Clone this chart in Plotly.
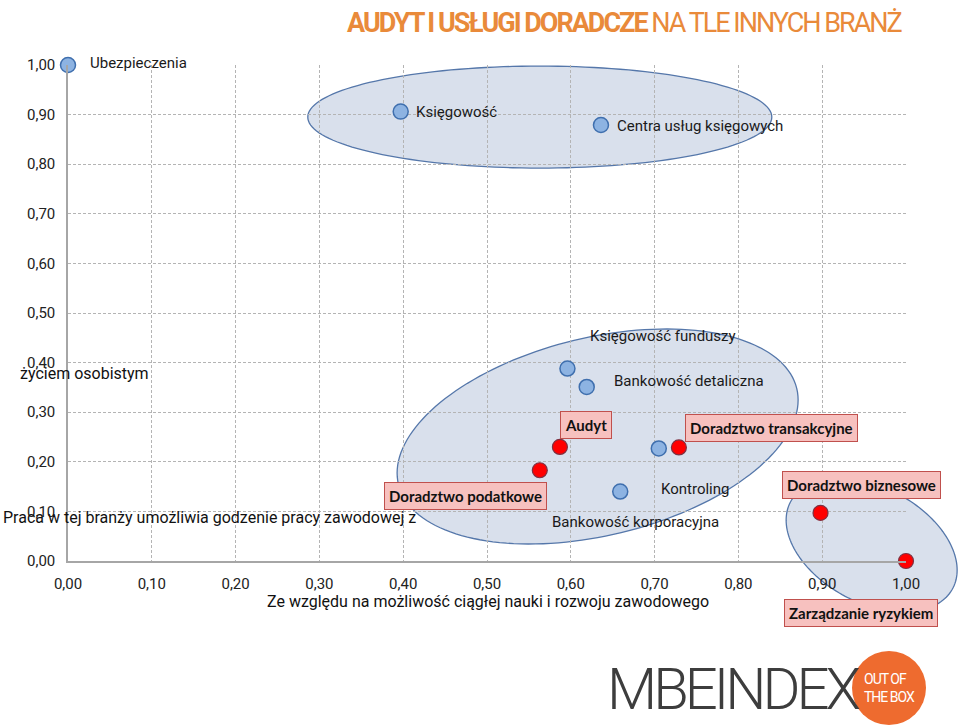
import numpy as np
import plotly.graph_objects as go

# ---------------- data ----------------
blue_names = ["Ubezpieczenia", "Księgowość", "Centra usług księgowych",
              "Księgowość funduszy", "Bankowość detaliczna",
              "Bankowość korporacyjna", "Kontroling"]
blue_x = [0.000, 0.397, 0.636, 0.596, 0.619, 0.705, 0.659]
blue_y = [1.000, 0.906, 0.879, 0.388, 0.351, 0.227, 0.140]

red_names = ["Doradztwo podatkowe", "Audyt", "Doradztwo transakcyjne",
             "Doradztwo biznesowe", "Zarządzanie ryzykiem"]
red_x = [0.563, 0.587, 0.729, 0.898, 1.000]
red_y = [0.183, 0.230, 0.229, 0.097, 0.000]

tick_vals = [round(i * 0.1, 1) for i in range(11)]

title_bold = "AUDYT I USŁUGI DORADCZE"
title_rest = "NA TLE INNYCH BRANŻ"
x_title = "Ze względu na możliwość ciągłej nauki i rozwoju zawodowego"
y_title_a = "życiem osobistym"
y_title_b = "Praca w tej branży umożliwia godzenie pracy zawodowej z"

# label offsets in pixels (text centre relative to point)
blue_off = [(70, -2), (56, 0), (99, 1), (96, -33), (102, -6), (-23, 74), (75, -3)]
red_off = [(-74, 26), (26, -22), (93, -19), (41, -28), (-45, 52)]

# ---------------- layout geometry ----------------
W, H = 960, 725
ML, MR, MT, MB = 68, 54, 65, 164
PW, PH = W - ML - MR, H - MT - MB

FONT = "Roboto, 'Noto Sans', sans-serif"
BOXFONT = "Lato, 'Open Sans', sans-serif"

fig = go.Figure()

fig.add_trace(go.Scatter(
    x=blue_x, y=blue_y, mode="markers", cliponaxis=False,
    marker=dict(size=15, color="#8db3e2", line=dict(color="#3f6fae", width=1.5)),
    hoverinfo="text", text=blue_names, showlegend=False))
fig.add_trace(go.Scatter(
    x=red_x, y=red_y, mode="markers", cliponaxis=False,
    marker=dict(size=15, color="#ff0000", line=dict(color="#7f3040", width=1.2)),
    hoverinfo="text", text=red_names, showlegend=False))

annotations = []
for n, x, y, (ax, ay) in zip(blue_names, blue_x, blue_y, blue_off):
    annotations.append(dict(x=x, y=y, xref="x", yref="y", text=n, showarrow=True,
                            arrowcolor="rgba(0,0,0,0)", ax=ax, ay=ay,
                            font=dict(family=FONT, size=15, color="#1a1a1a")))
for n, x, y, (ax, ay) in zip(red_names, red_x, red_y, red_off):
    annotations.append(dict(x=x, y=y, xref="x", yref="y", text="<b>" + n + "</b>", showarrow=True,
                            arrowcolor="rgba(0,0,0,0)", ax=ax, ay=ay,
                            bgcolor="#f7c1bf", borderpad=4, borderwidth=1,
                            bordercolor="#c0504d",
                            font=dict(family=BOXFONT, size=15, color="#111111")))

def px2paper(px, py):
    return (px - ML) / PW, (H - MB - py) / PH

# axis titles as free text (as in the original)
xa, ya = px2paper(18, 373)
annotations.append(dict(x=xa, y=ya, xref="paper", yref="paper", text=y_title_a, showarrow=False,
                        xanchor="left", yanchor="middle", font=dict(family=FONT, size=16, color="#111")))
xa, ya = px2paper(1, 517)
annotations.append(dict(x=xa, y=ya, xref="paper", yref="paper", text=y_title_b, showarrow=False,
                        xanchor="left", yanchor="middle", font=dict(family=FONT, size=16, color="#111")))
xa, ya = px2paper(488, 601)
annotations.append(dict(x=xa, y=ya, xref="paper", yref="paper", text=x_title, showarrow=False,
                        xanchor="center", yanchor="middle", font=dict(family=FONT, size=16, color="#111")))

# page title
xa, ya = px2paper(625, 23)
annotations.append(dict(
    x=xa, y=ya, xref="paper", yref="paper",
    text=("<span style='letter-spacing:-2px'><b>" + title_bold + "</b> " + title_rest + "</span>"),
    showarrow=False, xanchor="center", yanchor="middle",
    font=dict(family="Roboto", size=27, color="#e98a3a")))

# logo
xa, ya = px2paper(733, 689)
annotations.append(dict(x=xa, y=ya, xref="paper", yref="paper",
                        text="<span style='letter-spacing:-4px'>MBEINDEX</span>", showarrow=False,
                        xanchor="center", yanchor="middle",
                        font=dict(family="Roboto", size=58, weight=300, color="#3d3d3d")))
xa, ya = px2paper(889, 688)
annotations.append(dict(x=xa, y=ya, xref="paper", yref="paper",
                        text="<span style='letter-spacing:-1px'>OUT OF<br>THE BOX</span>", showarrow=False,
                        xanchor="center", yanchor="middle", align="left",
                        font=dict(family="Roboto", size=14, color="#ffffff")))

# ---------------- ellipses ----------------
def ellipse_path(cx, cy, sxx, sxy, syy, n=160):
    L = np.linalg.cholesky(np.array([[sxx, sxy], [sxy, syy]]))
    t = np.linspace(0, 2 * np.pi, n, endpoint=False)
    d = L @ np.vstack([np.cos(t), np.sin(t)])
    xs = cx + d[0] / PW
    ys = cy - d[1] / PH
    pts = [f"{x:.5f},{y:.5f}" for x, y in zip(xs, ys)]
    return "M " + " L ".join(pts) + " Z"

# centre in data units, shape matrix in px^2 (screen y down)
ellipses = [
    (0.563, 0.895, 232.0 ** 2, 0.0, 51.0 ** 2),
    (0.632, 0.251, 40200.0, -7318.0, 11556.0),
    (0.959, 0.032, 7310.0, 2137.0, 4461.0),
]
shapes = []
for e in ellipses:
    shapes.append(dict(type="path", xref="paper", yref="paper", path=ellipse_path(*e),
                       fillcolor="rgba(175,190,215,0.48)",
                       line=dict(color="#5577aa", width=1.3), layer="below"))

x0, y0 = px2paper(889 - 37, 688 + 37)
x1, y1 = px2paper(889 + 37, 688 - 37)
shapes.append(dict(type="circle", xref="paper", yref="paper", x0=x0, y0=y0, x1=x1, y1=y1,
                   fillcolor="#ee6b2f", line=dict(width=0), layer="above"))

axis_common = dict(range=[0, 1], tickvals=tick_vals, tickformat=".2f",
                   showgrid=True, gridcolor="#b4b4b4", griddash="3px,2px", gridwidth=1,
                   zeroline=False, showline=True, linecolor="#a6a6a6", linewidth=1.5,
                   ticks="", tickfont=dict(family=FONT, size=15, color="#222"),
                   fixedrange=True)

fig.update_layout(
    width=W, height=H, margin=dict(l=ML, r=MR, t=MT, b=MB, pad=0),
    paper_bgcolor="white", plot_bgcolor="rgba(0,0,0,0)",
    separators=", ",
    xaxis=dict(**axis_common, ticklabelstandoff=8),
    yaxis=dict(**axis_common, ticklabelstandoff=8),
    annotations=annotations, shapes=shapes, showlegend=False,
)

fig.write_html("out.html")
